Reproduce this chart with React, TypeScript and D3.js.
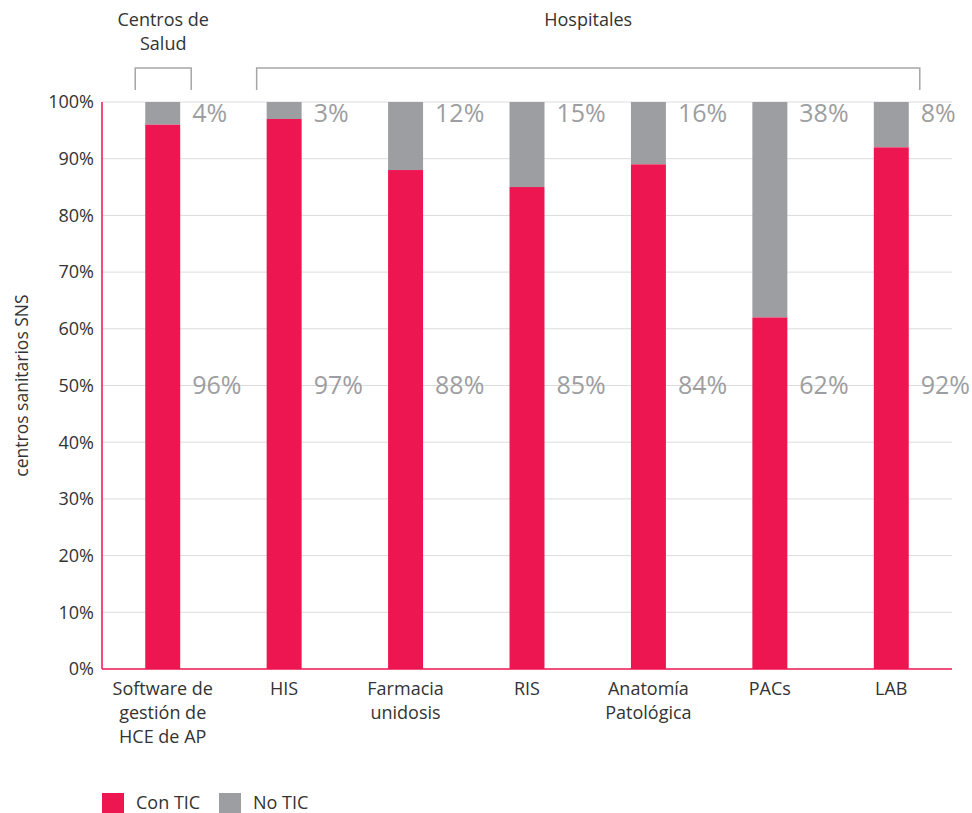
import { useRef, useEffect } from "react";
import * as d3 from "d3";

const categories = [
  ["Software de", "gestión de", "HCE de AP"],
  ["HIS"],
  ["Farmacia", "unidosis"],
  ["RIS"],
  ["Anatomía", "Patológica"],
  ["PACs"],
  ["LAB"],
];
// bar heights as drawn
const conTic = [96, 97, 88, 85, 89, 62, 92];
// printed labels
const conLabels = ["96%", "97%", "88%", "85%", "84%", "62%", "92%"];
const noLabels = ["4%", "3%", "12%", "15%", "16%", "38%", "8%"];
const yTicks = [0, 10, 20, 30, 40, 50, 60, 70, 80, 90, 100];
const groups = [
  { name: ["Centros de", "Salud"], from: 0, to: 0 },
  { name: ["Hospitales"], from: 1, to: 6 },
];

const RED = "#ed1651";
const GREY = "#9d9ea1";
const FONT = "'Open Sans', sans-serif";

export default function App() {
  const ref = useRef<SVGSVGElement | null>(null);

  useEffect(() => {
    if (!ref.current) return;
    const W = 972, H = 813;
    const left = 102, right = 952, top = 102, bottom = 669;

    const svg = d3.select(ref.current);
    svg.selectAll("*").remove();
    svg.attr("width", W).attr("height", H).style("display", "block").style("font-family", FONT);

    const x = d3
      .scaleBand<number>()
      .domain(d3.range(categories.length))
      .range([left, right])
      .paddingInner(0.712)
      .paddingOuter(0.356);
    const y = d3.scaleLinear().domain([0, 100]).range([bottom, top]);

    // gridlines
    svg
      .append("g")
      .selectAll("line")
      .data(yTicks.filter((t) => t > 0))
      .join("line")
      .attr("x1", left)
      .attr("x2", right)
      .attr("y1", (d) => y(d))
      .attr("y2", (d) => y(d))
      .attr("stroke", "#dcdcdc")
      .attr("stroke-width", 1);

    // y tick labels
    svg
      .append("g")
      .selectAll("text")
      .data(yTicks)
      .join("text")
      .attr("x", left - 8)
      .attr("y", (d) => y(d))
      .attr("dy", "0.35em")
      .attr("text-anchor", "end")
      .attr("font-size", 18)
      .attr("fill", "#333")
      .text((d) => `${d}%`);

    svg
      .append("text")
      .attr("transform", `translate(28,${(top + bottom) / 2}) rotate(-90)`)
      .attr("text-anchor", "middle")
      .attr("font-size", 17.5)
      .attr("fill", "#333")
      .text("centros sanitarios SNS");

    // bars
    const bars = svg.append("g");
    bars
      .selectAll("rect.no")
      .data(conTic)
      .join("rect")
      .attr("class", "no")
      .attr("x", (_, i) => x(i)!)
      .attr("width", x.bandwidth())
      .attr("y", y(100))
      .attr("height", (d) => y(d) - y(100))
      .attr("fill", GREY);
    bars
      .selectAll("rect.con")
      .data(conTic)
      .join("rect")
      .attr("class", "con")
      .attr("x", (_, i) => x(i)!)
      .attr("width", x.bandwidth())
      .attr("y", (d) => y(d))
      .attr("height", (d) => y(0) - y(d))
      .attr("fill", RED);

    // value labels
    const lab = svg.append("g").attr("font-size", 25).attr("fill", GREY);
    lab
      .selectAll("text.n")
      .data(noLabels)
      .join("text")
      .attr("x", (_, i) => x(i)! + x.bandwidth() + 12)
      .attr("y", y(98))
      .attr("dy", "0.35em")
      .text((d) => d);
    lab
      .selectAll("text.c")
      .data(conLabels)
      .join("text")
      .attr("x", (_, i) => x(i)! + x.bandwidth() + 12)
      .attr("y", y(50))
      .attr("dy", "0.35em")
      .text((d) => d);

    // axes lines
    svg.append("line").attr("x1", left).attr("x2", left).attr("y1", top).attr("y2", bottom).attr("stroke", RED).attr("stroke-width", 1.5);
    svg.append("line").attr("x1", left).attr("x2", right).attr("y1", bottom).attr("y2", bottom).attr("stroke", RED).attr("stroke-width", 1.5);

    // category labels
    const cl = svg.append("g").attr("font-size", 18).attr("fill", "#333").attr("text-anchor", "middle");
    categories.forEach((lines, i) => {
      const t = cl.append("text").attr("x", x(i)! + x.bandwidth() / 2).attr("y", bottom + 26);
      lines.forEach((l, j) => t.append("tspan").attr("x", x(i)! + x.bandwidth() / 2).attr("dy", j === 0 ? 0 : 24).text(l));
    });

    // group brackets
    groups.forEach((g) => {
      const x0 = x(g.from)! - 10;
      const x1 = x(g.to)! + x.bandwidth() + 11;
      svg
        .append("path")
        .attr("d", `M${x0},90 V68 H${x1} V90`)
        .attr("fill", "none")
        .attr("stroke", "#a6a6a6")
        .attr("stroke-width", 1.5);
      const t = svg.append("text").attr("text-anchor", "middle").attr("font-size", 18).attr("fill", "#333").attr("y", 26);
      g.name.forEach((l, j) => t.append("tspan").attr("x", (x0 + x1) / 2).attr("dy", j === 0 ? 0 : 24).text(l));
    });

    // legend
    const legend = [
      { name: "Con TIC", color: RED, x: 102 },
      { name: "No TIC", color: GREY, x: 219 },
    ];
    legend.forEach((d) => {
      svg.append("rect").attr("x", d.x).attr("y", 793).attr("width", 22).attr("height", 20).attr("fill", d.color);
      svg.append("text").attr("x", d.x + 34).attr("y", 803).attr("dy", "0.35em").attr("font-size", 18).attr("fill", "#333").text(d.name);
    });
  }, []);

  return <svg ref={ref} style={{ position: "absolute", left: 0, top: 0 }} />;
}
